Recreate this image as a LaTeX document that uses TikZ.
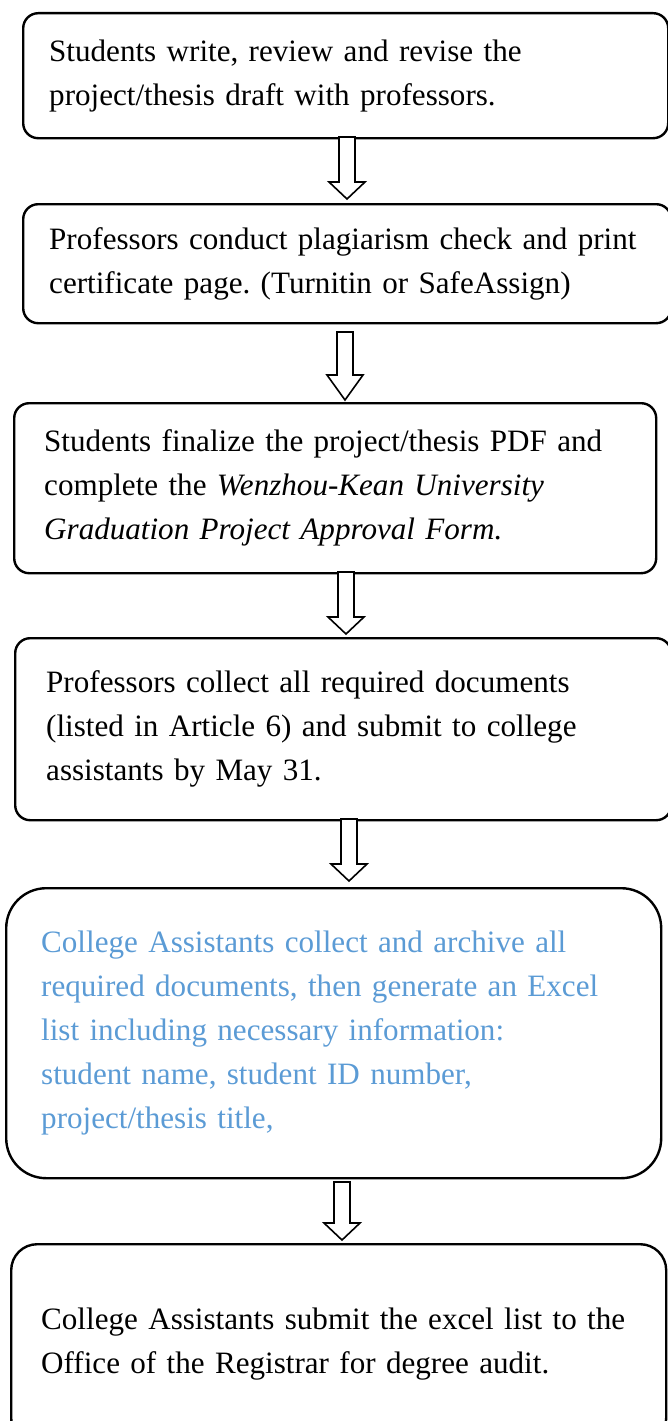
\documentclass[tikz,border=0pt]{standalone}
\usepackage{fontspec}
\setmainfont{Liberation Serif}
\usetikzlibrary{calc}
\definecolor{assistblue}{RGB}{91,155,213}
\frenchspacing

\tikzset{
  stepbox/.style={draw, line width=2.4pt, rounded corners=15pt, anchor=north west,
    align=left, inner ysep=0pt, font=\fontsize{31.1}{44}\selectfont},
  hollow/.style={draw, line width=1.6pt, fill=white,
    to path={let \p1=(\tikztostart), \p2=(\tikztotarget) in
      (\x1-8pt,\y1) -- (\x1-8pt,\y2+#1) -- (\x1-18pt,\y2+#1) -- (\x2,\y2)
      -- (\x1+18pt,\y2+#1) -- (\x1+8pt,\y2+#1) -- (\x1+8pt,\y1) -- cycle}},
  hollow/.default=17pt
}

\begin{document}
\begin{tikzpicture}[x=1pt,y=-1pt]
\useasboundingbox (0,0) rectangle (668,1421);

% Steps
\node[stepbox, minimum width=645pt, minimum height=125pt, text width=593pt, inner xsep=26pt] (s1) at (22,12)
  {Students write, review and revise the\\ project/thesis draft with professors.};
\node[stepbox, minimum width=648pt, minimum height=119pt, text width=596pt, inner xsep=26pt] (s2) at (22,203)
  {Professors conduct plagiarism check and print\\ certificate page. (Turnitin or SafeAssign)};
\node[stepbox, minimum width=642pt, minimum height=170pt, text width=582pt, inner xsep=30pt] (s3) at (13,402)
  {Students finalize the project/thesis PDF and\\ complete the \textit{Wenzhou-Kean University}\\ \textit{Graduation Project Approval Form.}};
\node[stepbox, minimum width=656pt, minimum height=182pt, text width=594pt, inner xsep=31pt] (s4) at (14,637)
  {Professors collect all required documents\\ (listed in Article 6) and submit to college\\ assistants by May 31.};
\node[stepbox, rounded corners=40pt, text=assistblue, minimum width=655pt, minimum height=290pt, text width=585pt, inner xsep=35pt] (s5) at (5,887)
  {College Assistants collect and archive all\\ required documents, then generate an Excel\\ list including necessary information:\\ student name, student ID number,\\ project/thesis title,};
\node[stepbox, rounded corners=26pt, minimum width=655pt, minimum height=200pt, text width=595pt, inner xsep=30pt] (s6) at (10,1243)
  {College Assistants submit the excel list to the\\ Office of the Registrar for degree audit.};

% Arrows between steps
\foreach \i/\cx/\ya/\yb/\h in {1/347/137/199/17pt, 2/345/332/400/25pt, 3/346/572/634/17pt,
                               4/349/819/881/17pt, 5/342/1182/1240/17pt} {
  \coordinate (top\i) at (\cx,\ya);
  \coordinate (tip\i) at (\cx,\yb);
  \draw[hollow=\h] (top\i) to (tip\i);
}
\end{tikzpicture}
\end{document}
